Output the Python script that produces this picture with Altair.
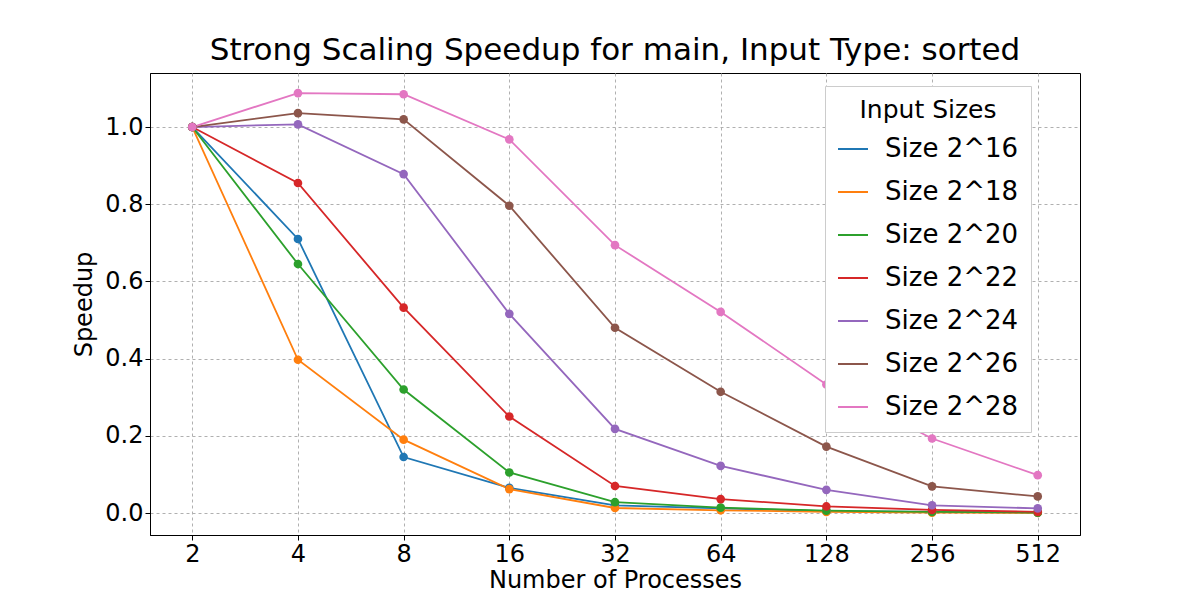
import pandas as pd
import altair as alt

procs = [2, 4, 8, 16, 32, 64, 128, 256, 512]
sizes = ["Size 2^16", "Size 2^18", "Size 2^20", "Size 2^22", "Size 2^24", "Size 2^26", "Size 2^28"]
speedup = {
    "Size 2^16": [1.0, 0.71, 0.145, 0.065, 0.02, 0.012, 0.005, 0.003, 0.001],
    "Size 2^18": [1.0, 0.397, 0.19, 0.062, 0.013, 0.007, 0.003, 0.001, 0.0005],
    "Size 2^20": [1.0, 0.645, 0.32, 0.105, 0.028, 0.014, 0.006, 0.003, 0.001],
    "Size 2^22": [1.0, 0.855, 0.532, 0.25, 0.07, 0.036, 0.017, 0.008, 0.003],
    "Size 2^24": [1.0, 1.007, 0.878, 0.516, 0.218, 0.122, 0.06, 0.02, 0.012],
    "Size 2^26": [1.0, 1.036, 1.02, 0.796, 0.48, 0.314, 0.172, 0.069, 0.043],
    "Size 2^28": [1.0, 1.088, 1.085, 0.968, 0.694, 0.521, 0.333, 0.193, 0.098],
}
colors = ["#1f77b4", "#ff7f0e", "#2ca02c", "#d62728", "#9467bd", "#8c564b", "#e377c2"]

df = pd.DataFrame([
    {"procs": p, "size": s, "speedup": v}
    for s in sizes for p, v in zip(procs, speedup[s])
])

font = "DejaVu Sans"
base = alt.Chart(df).encode(
    x=alt.X("procs:Q", title="Number of Processes",
            scale=alt.Scale(type="log", base=2, domain=[2 ** 0.6, 2 ** 9.4], nice=False),
            axis=alt.Axis(values=procs, format="d", labelFontSize=24, titleFontSize=24,
                          gridDash=[3, 3], gridColor="#b0b0b0", titlePadding=2)),
    y=alt.Y("speedup:Q", title="Speedup",
            scale=alt.Scale(domain=[-0.057, 1.14], nice=False, zero=False),
            axis=alt.Axis(values=[0, 0.2, 0.4, 0.6, 0.8, 1.0], format=".1f",
                          labelFontSize=24, titleFontSize=24, titlePadding=8,
                          gridDash=[3, 3], gridColor="#b0b0b0")),
    color=alt.Color("size:N", sort=sizes,
                    scale=alt.Scale(domain=sizes, range=colors),
                    legend=alt.Legend(title="Input Sizes", orient="none", legendX=675, legendY=13,
                                      titleFontSize=25, labelFontSize=26, titleFontWeight="normal",
                                      titleAnchor="middle", symbolType="stroke", symbolStrokeWidth=2,
                                      symbolSize=900, rowPadding=14, padding=12, labelOffset=16,
                                      titlePadding=10,
                                      fillColor="white", strokeColor="#cccccc",
                                      titleFont=font, labelFont=font, labelColor="black",
                                      titleColor="black")),
)

chart = (base.mark_line(strokeWidth=1.8) + base.mark_circle(size=75, opacity=1)).properties(
    width=930, height=462,
    title=alt.TitleParams("Strong Scaling Speedup for main, Input Type: sorted",
                          fontSize=31, font=font, fontWeight="normal", offset=6),
    autosize=alt.AutoSizeParams(type="none"),
    padding={"left": 142, "top": 65, "right": 112, "bottom": 57},
).configure_axis(
    labelFont=font, titleFont=font, titleFontWeight="normal", labelColor="black",
    titleColor="black", domainColor="black", tickColor="black",
).configure_view(stroke="black")

chart.save("out.html", embed_options={"renderer": "svg", "actions": False})
